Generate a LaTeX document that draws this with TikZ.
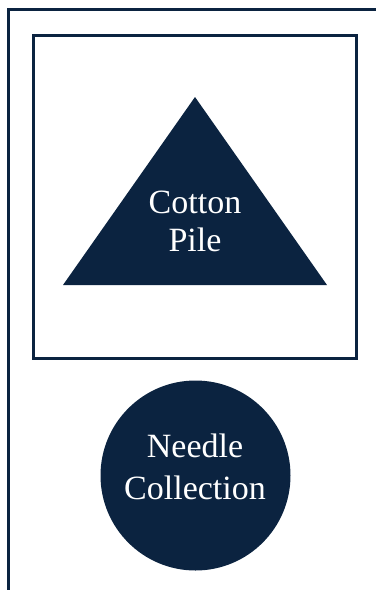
\documentclass[tikz,border=0pt]{standalone}
\usepackage{tikz}
\usepackage{xcolor}
\usepackage{fontspec}
\setmainfont{Liberation Serif}
\definecolor{navy}{HTML}{0B2340}

\tikzset{
  frameline/.style={draw=navy,line width=2.5pt},
  areatext/.style={text=white,align=center,font=\fontsize{34}{38}\selectfont}
}

\begin{document}
\begin{tikzpicture}[x=1pt,y=-1pt]
\useasboundingbox (0,0) rectangle (376,590);
% outer border along left and top
\coordinate (wallbot) at (8.7,590);
\coordinate (wallcorner) at (8.7,9.3);
\coordinate (wallend) at (376,9.3);
\draw[frameline] (wallbot) -- (wallcorner) -- (wallend);

% inner box with the pile
\draw[frameline] (33.7,35.5) rectangle (356.5,358.5);
\coordinate (pileapex) at (195,97);
\coordinate (pileleft) at (63,285);
\coordinate (pileright) at (327,285);
\fill[navy] (pileapex) -- (pileright) -- (pileleft) -- cycle;
\node[areatext] (pile) at (195,221) {Cotton\\Pile};

% needle collection
\node[circle,fill=navy,minimum size=190pt,inner sep=0pt] (needles) at (195.5,475.5) {};
\node[areatext,font=\fontsize{34}{42}\selectfont] (needletext) at (195,467) {Needle\\Collection};
\end{tikzpicture}
\end{document}
